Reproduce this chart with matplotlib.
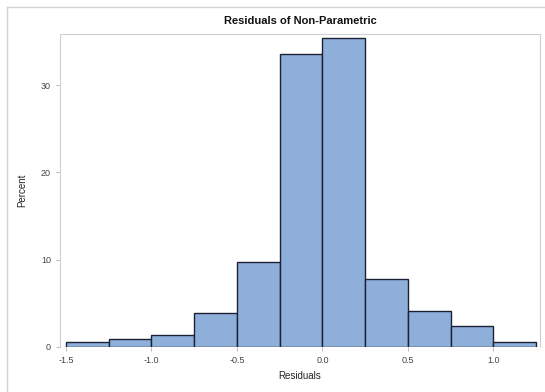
import matplotlib
matplotlib.use("Agg")
import matplotlib.pyplot as plt
from matplotlib.lines import Line2D

plt.rcParams['font.family'] = ['Liberation Sans', 'DejaVu Sans']

bin_edges = [-1.5, -1.25, -1.0, -0.75, -0.5, -0.25, 0.0, 0.25, 0.5, 0.75, 1.0, 1.25]
percents = [0.6, 0.9, 1.4, 3.9, 9.7, 33.6, 35.4, 7.8, 4.1, 2.4, 0.6]
xticks = [-1.5, -1.0, -0.5, 0.0, 0.5, 1.0]
xticklabels = ['-1.5', '-1.0', '-0.5', '0.0', '0.5', '1.0']
yticks = [0, 10, 20, 30]

fig = plt.figure(figsize=(5.45, 3.92), dpi=100)
x0, y0 = 6.5/545, 1-6.5/392
fig.lines.append(Line2D([x0, 1.0], [y0, y0], transform=fig.transFigure, color='#d4d4d4', linewidth=1.0))
fig.lines.append(Line2D([x0, x0], [0.0, y0], transform=fig.transFigure, color='#d4d4d4', linewidth=1.0))
ax = fig.add_axes([60/545, 1-347/392, 480/545, 313/392])

lefts = bin_edges[:-1]
widths = [bin_edges[i+1]-bin_edges[i] for i in range(len(lefts))]
ax.bar(lefts, percents, width=widths, align='edge', color='#8eafd9',
       edgecolor='#1c2236', linewidth=1.0)

ax.set_xlim(-1.535, 1.273)
ax.set_ylim(0, 35.85)
ax.set_xticks(xticks)
ax.set_xticklabels(xticklabels)
ax.set_yticks(yticks)
for s in ax.spines.values():
    s.set_color('#d0d0d0')
    s.set_linewidth(0.8)
ax.spines['bottom'].set_visible(False)
ax.tick_params(axis='both', colors='#b0b0b0', labelcolor='#444444', labelsize=6.5, length=3, width=0.6)
ax.set_xlabel('Residuals', fontsize=7, color='#222222', labelpad=4)
ax.set_ylabel('Percent', fontsize=7, color='#222222', labelpad=10)
ax.set_title('Residuals of Non-Parametric', fontsize=8, fontweight='bold', color='#111111', pad=7)

fig.savefig('out.png', dpi=100)
